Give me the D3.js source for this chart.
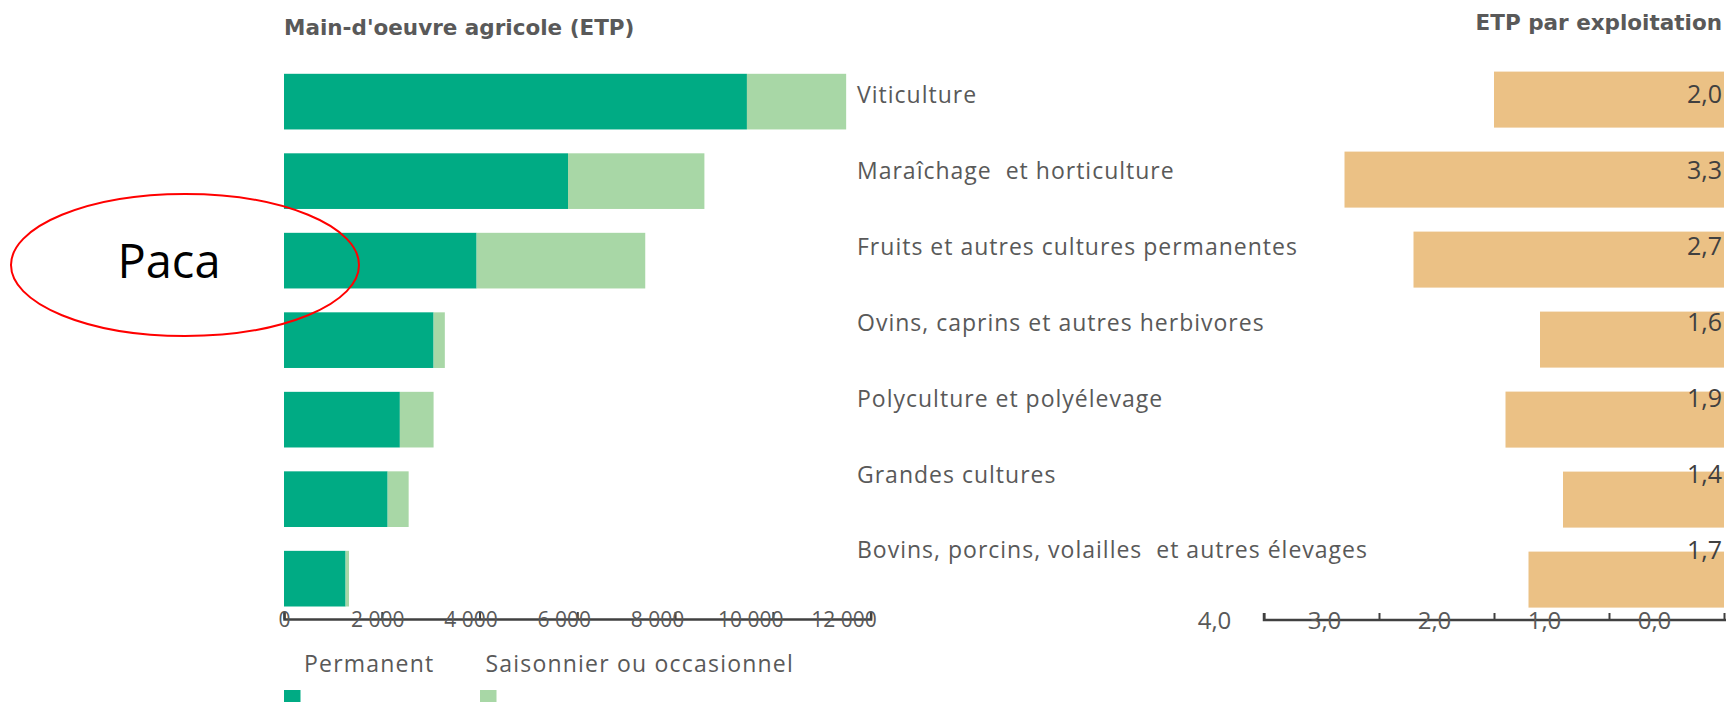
<!DOCTYPE html>
<meta charset="utf-8">
<html>
<head>
<style>
body {
  margin: 0;
  background: #fff;
  font-family: "Open Sans", Arial, sans-serif;
}
</style>
</head>
<body>
<div id="chart"></div>
<script src="https://cdn.jsdelivr.net/npm/d3@7"></script>
<script>

// data
var categories = ["Viticulture", "Maraîchage  et horticulture", "Fruits et autres cultures permanentes",
  "Ovins, caprins et autres herbivores", "Polyculture et polyélevage", "Grandes cultures",
  "Bovins, porcins, volailles  et autres élevages"];
var permanent = [9470, 5810, 3940, 3060, 2370, 2120, 1260];
var saisonnier = [2030, 2790, 3450, 230, 690, 430, 70];
var etpParExpl = [2.0, 3.3, 2.7, 1.6, 1.9, 1.4, 1.7];
var leftTicks = [0, 2000, 4000, 6000, 8000, 10000, 12000];
var rightTicks = [0, 1, 2, 3, 4];

var W = 1726, H = 702;
var grey = "#595959";

var svg = d3.select("#chart")
  .append("svg")
    .attr("width", W)
    .attr("height", H);

// scales
var x = d3.scaleLinear().domain([0, 12000]).range([284, 870.6]);
var xr = d3.scaleLinear().domain([0, 4]).range([1724, 1264]);
var y = d3.scaleBand().domain(categories).range([73.8, 606.5]).paddingInner(0.3).paddingOuter(0);
var yr = d3.scaleBand().domain(categories).range([71.6, 607.6]).paddingInner(0.3).paddingOuter(0);
var yLab = d3.scalePoint().domain(categories).range([94.7, 550.4]);

// titles
svg.append("text")
  .attr("x", 284).attr("y", 35)
  .attr("fill", grey)
  .style("font-family", "'DejaVu Sans', sans-serif")
  .style("font-size", "21.5px").style("font-weight", "bold")
  .text("Main-d'oeuvre agricole (ETP)");

svg.append("text")
  .attr("x", 1722).attr("y", 30)
  .attr("text-anchor", "end")
  .attr("fill", grey)
  .style("font-family", "'DejaVu Sans', sans-serif")
  .style("font-size", "21.5px").style("font-weight", "bold")
  .text("ETP par exploitation");

// stacked bars
var rows = categories.map(function(c, i) {
  return {cat: c, p: permanent[i], s: saisonnier[i], e: etpParExpl[i]};
});

svg.append("g").selectAll("rect")
  .data(rows).enter().append("rect")
    .attr("x", x(0))
    .attr("y", function(d) { return y(d.cat); })
    .attr("width", function(d) { return x(d.p) - x(0); })
    .attr("height", y.bandwidth())
    .attr("fill", "#00AB84");

svg.append("g").selectAll("rect")
  .data(rows).enter().append("rect")
    .attr("x", function(d) { return x(d.p); })
    .attr("y", function(d) { return y(d.cat); })
    .attr("width", function(d) { return x(d.p + d.s) - x(d.p); })
    .attr("height", y.bandwidth())
    .attr("fill", "#A8D7A6");

// category labels
svg.append("g").selectAll("text")
  .data(rows).enter().append("text")
    .attr("x", 857)
    .attr("y", function(d) { return yLab(d.cat); })
    .attr("dy", "0.35em")
    .attr("fill", grey)
    .style("font-size", "23px")
    .style("letter-spacing", "1px")
    .style("white-space", "pre")
    .text(function(d) { return d.cat; });

// right bars
svg.append("g").selectAll("rect")
  .data(rows).enter().append("rect")
    .attr("x", function(d) { return xr(d.e); })
    .attr("y", function(d) { return yr(d.cat); })
    .attr("width", function(d) { return xr(0) - xr(d.e); })
    .attr("height", yr.bandwidth())
    .attr("fill", "#EBC185");

svg.append("g").selectAll("text")
  .data(rows).enter().append("text")
    .attr("x", 1722)
    .attr("y", function(d) { return yLab(d.cat); })
    .attr("dy", "0.35em")
    .attr("text-anchor", "end")
    .attr("fill", "#404040")
    .style("font-size", "25px")
    .text(function(d) { return d3.format(".1f")(d.e).replace(".", ","); });

// left axis
var axL = svg.append("g")
  .attr("transform", "translate(0,619)")
  .call(d3.axisBottom(x).tickValues(leftTicks).tickSizeInner(-7).tickSizeOuter(-7)
    .tickFormat(function(d) { return d3.format(",")(d).replace(",", " "); }));

// right axis
var axR = svg.append("g")
  .attr("transform", "translate(0,620)")
  .call(d3.axisBottom(xr).tickValues(rightTicks).tickSizeInner(-7).tickSizeOuter(-7)
    .tickFormat(function(d) { return d3.format(".1f")(d).replace(".", ","); }));

axR.select(".domain").attr("d", "M1264,-7V0H1726");

[axL, axR].forEach(function(a) {
  a.select(".domain").attr("stroke", "#404040").attr("stroke-width", 2.5);
  a.selectAll(".tick line").attr("stroke", "#404040").attr("stroke-width", 2);
  a.selectAll(".tick text")
    .attr("y", 0).attr("dy", "0.38em")
    .attr("fill", grey)
    .style("font-family", "'Open Sans', Arial, sans-serif")
    .style("font-size", "20px");
});
// Excel draws the labels a bit to the left of their ticks
axL.selectAll(".tick text").attr("dx", function(d) { return -d * 0.00225; })
  .style("font-size", "21px");
axR.selectAll(".tick text").attr("dx", function(d) { return -70 + d * 5; })
  .style("font-size", "24px");

// legend
var legend = [{name: "Permanent", color: "#00AB84", x: 284, tx: 304},
              {name: "Saisonnier ou occasionnel", color: "#A8D7A6", x: 480, tx: 485.5}];
var lg = svg.append("g").selectAll("g").data(legend).enter().append("g");
lg.append("rect")
  .attr("x", function(d) { return d.x; })
  .attr("y", 690).attr("width", 16.5).attr("height", 16)
  .attr("fill", function(d) { return d.color; });
lg.append("text")
  .attr("x", function(d) { return d.tx; })
  .attr("y", 664).attr("dy", "0.35em")
  .attr("fill", grey)
  .style("font-size", "23px")
  .style("letter-spacing", "1.2px")
  .text(function(d) { return d.name; });

// Paca annotation
svg.append("ellipse")
  .attr("cx", 185).attr("cy", 265)
  .attr("rx", 174).attr("ry", 71)
  .attr("fill", "none")
  .attr("stroke", "#FF0000")
  .attr("stroke-width", 2);

svg.append("text")
  .attr("x", 169).attr("y", 278)
  .attr("text-anchor", "middle")
  .attr("fill", "#000")
  .style("font-size", "47px")
  .text("Paca");

</script>
</body>
</html>
